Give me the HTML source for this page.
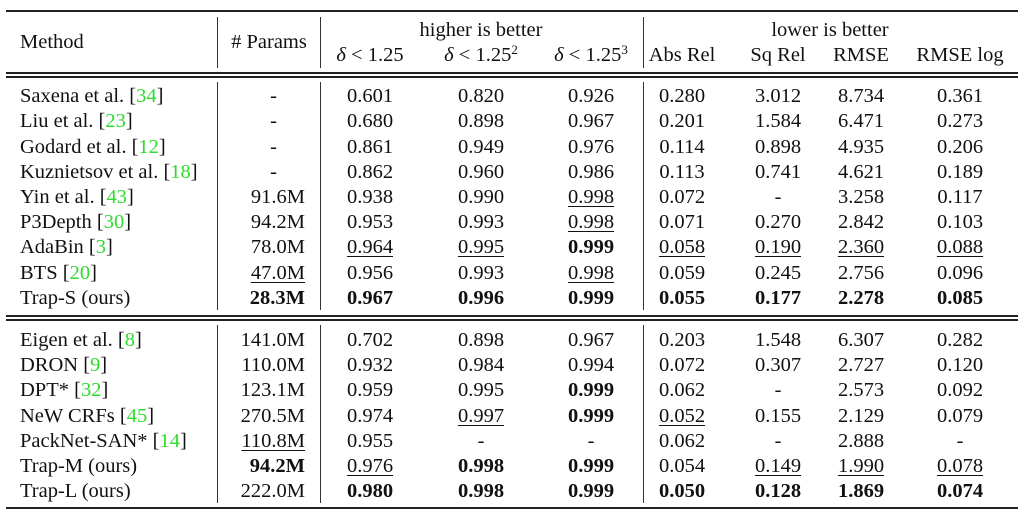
<!DOCTYPE html>
<html><head><meta charset="utf-8"><style>
body{margin:0;width:1024px;height:516px;background:#fff;position:relative;overflow:hidden;font-family:"Liberation Serif","DejaVu Serif",serif;font-size:20.5px;color:#111}
.r{position:absolute;left:0;width:1024px;height:22px;line-height:22px}
.r span{position:absolute;top:0;white-space:nowrap}
.c0{left:20px}
.c1{left:205px;width:100px;text-align:right}
.c2{left:310px;width:120px;text-align:center}
.c3{left:421px;width:120px;text-align:center}
.c4{left:531px;width:120px;text-align:center}
.c5{left:622px;width:120px;text-align:center}
.c6{left:718px;width:120px;text-align:center}
.c7{left:801px;width:120px;text-align:center}
.c8{left:900px;width:120px;text-align:center}
.g{color:#2ddc2d}
b{font-weight:bold}
u{text-decoration:underline;text-underline-offset:3px;text-decoration-thickness:1px}
.h{position:absolute;left:6px;width:1012px;background:#222}
.v{position:absolute;width:1.3px;background:#333}
sup{font-size:13px;line-height:0;vertical-align:7px}
i{font-style:italic}
</style></head><body>
<div class="h" style="top:10px;height:2px"></div>
<div class="h" style="top:72px;height:1.5px"></div>
<div class="h" style="top:76px;height:1.5px"></div>
<div class="h" style="top:315px;height:1.5px"></div>
<div class="h" style="top:319px;height:1.5px"></div>
<div class="h" style="top:507px;height:2px"></div>
<div class="v" style="left:217px;top:17px;height:51px"></div>
<div class="v" style="left:320px;top:17px;height:51px"></div>
<div class="v" style="left:643px;top:17px;height:51px"></div>
<div class="v" style="left:217px;top:82px;height:228px"></div>
<div class="v" style="left:320px;top:82px;height:228px"></div>
<div class="v" style="left:643px;top:82px;height:228px"></div>
<div class="v" style="left:217px;top:325px;height:178px"></div>
<div class="v" style="left:320px;top:325px;height:178px"></div>
<div class="v" style="left:643px;top:325px;height:178px"></div>

<div class="r" style="top:31px"><span class="c0">Method</span><span style="left:218px;width:102px;text-align:center"># Params</span></div>
<div class="r" style="top:19px"><span style="left:381px;width:200px;text-align:center">higher is better</span><span style="left:730px;width:200px;text-align:center">lower is better</span></div>
<div class="r" style="top:44px"><span class="c2"><i>δ</i> &lt; 1.25</span><span class="c3"><i>δ</i> &lt; 1.25<sup>2</sup></span><span class="c4"><i>δ</i> &lt; 1.25<sup>3</sup></span><span class="c5">Abs Rel</span><span class="c6">Sq Rel</span><span class="c7">RMSE</span><span class="c8">RMSE log</span></div>

<div class="r" style="top:85px"><span class="c0">Saxena et al. [<span class="g" style="position:static">34</span>]</span><span class="c1" style="width:72px">-</span><span class="c2">0.601</span><span class="c3">0.820</span><span class="c4">0.926</span><span class="c5">0.280</span><span class="c6">3.012</span><span class="c7">8.734</span><span class="c8">0.361</span></div>
<div class="r" style="top:110px"><span class="c0">Liu et al. [<span class="g" style="position:static">23</span>]</span><span class="c1" style="width:72px">-</span><span class="c2">0.680</span><span class="c3">0.898</span><span class="c4">0.967</span><span class="c5">0.201</span><span class="c6">1.584</span><span class="c7">6.471</span><span class="c8">0.273</span></div>
<div class="r" style="top:136px"><span class="c0">Godard et al. [<span class="g" style="position:static">12</span>]</span><span class="c1" style="width:72px">-</span><span class="c2">0.861</span><span class="c3">0.949</span><span class="c4">0.976</span><span class="c5">0.114</span><span class="c6">0.898</span><span class="c7">4.935</span><span class="c8">0.206</span></div>
<div class="r" style="top:161px"><span class="c0">Kuznietsov et al. [<span class="g" style="position:static">18</span>]</span><span class="c1" style="width:72px">-</span><span class="c2">0.862</span><span class="c3">0.960</span><span class="c4">0.986</span><span class="c5">0.113</span><span class="c6">0.741</span><span class="c7">4.621</span><span class="c8">0.189</span></div>
<div class="r" style="top:186px"><span class="c0">Yin et al. [<span class="g" style="position:static">43</span>]</span><span class="c1">91.6M</span><span class="c2">0.938</span><span class="c3">0.990</span><span class="c4"><u>0.998</u></span><span class="c5">0.072</span><span class="c6">-</span><span class="c7">3.258</span><span class="c8">0.117</span></div>
<div class="r" style="top:211px"><span class="c0">P3Depth [<span class="g" style="position:static">30</span>]</span><span class="c1">94.2M</span><span class="c2">0.953</span><span class="c3">0.993</span><span class="c4"><u>0.998</u></span><span class="c5">0.071</span><span class="c6">0.270</span><span class="c7">2.842</span><span class="c8">0.103</span></div>
<div class="r" style="top:236px"><span class="c0">AdaBin [<span class="g" style="position:static">3</span>]</span><span class="c1">78.0M</span><span class="c2"><u>0.964</u></span><span class="c3"><u>0.995</u></span><span class="c4"><b>0.999</b></span><span class="c5"><u>0.058</u></span><span class="c6"><u>0.190</u></span><span class="c7"><u>2.360</u></span><span class="c8"><u>0.088</u></span></div>
<div class="r" style="top:262px"><span class="c0">BTS [<span class="g" style="position:static">20</span>]</span><span class="c1"><u>47.0M</u></span><span class="c2">0.956</span><span class="c3">0.993</span><span class="c4"><u>0.998</u></span><span class="c5">0.059</span><span class="c6">0.245</span><span class="c7">2.756</span><span class="c8">0.096</span></div>
<div class="r" style="top:287px"><span class="c0">Trap-S (ours)</span><span class="c1"><b>28.3M</b></span><span class="c2"><b>0.967</b></span><span class="c3"><b>0.996</b></span><span class="c4"><b>0.999</b></span><span class="c5"><b>0.055</b></span><span class="c6"><b>0.177</b></span><span class="c7"><b>2.278</b></span><span class="c8"><b>0.085</b></span></div>

<div class="r" style="top:329px"><span class="c0">Eigen et al. [<span class="g" style="position:static">8</span>]</span><span class="c1">141.0M</span><span class="c2">0.702</span><span class="c3">0.898</span><span class="c4">0.967</span><span class="c5">0.203</span><span class="c6">1.548</span><span class="c7">6.307</span><span class="c8">0.282</span></div>
<div class="r" style="top:354px"><span class="c0">DRON [<span class="g" style="position:static">9</span>]</span><span class="c1">110.0M</span><span class="c2">0.932</span><span class="c3">0.984</span><span class="c4">0.994</span><span class="c5">0.072</span><span class="c6">0.307</span><span class="c7">2.727</span><span class="c8">0.120</span></div>
<div class="r" style="top:379px"><span class="c0">DPT* [<span class="g" style="position:static">32</span>]</span><span class="c1">123.1M</span><span class="c2">0.959</span><span class="c3">0.995</span><span class="c4"><b>0.999</b></span><span class="c5">0.062</span><span class="c6">-</span><span class="c7">2.573</span><span class="c8">0.092</span></div>
<div class="r" style="top:405px"><span class="c0">NeW CRFs [<span class="g" style="position:static">45</span>]</span><span class="c1">270.5M</span><span class="c2">0.974</span><span class="c3"><u>0.997</u></span><span class="c4"><b>0.999</b></span><span class="c5"><u>0.052</u></span><span class="c6">0.155</span><span class="c7">2.129</span><span class="c8">0.079</span></div>
<div class="r" style="top:430px"><span class="c0">PackNet-SAN* [<span class="g" style="position:static">14</span>]</span><span class="c1"><u>110.8M</u></span><span class="c2">0.955</span><span class="c3">-</span><span class="c4">-</span><span class="c5">0.062</span><span class="c6">-</span><span class="c7">2.888</span><span class="c8">-</span></div>
<div class="r" style="top:455px"><span class="c0">Trap-M (ours)</span><span class="c1"><b>94.2M</b></span><span class="c2"><u>0.976</u></span><span class="c3"><b>0.998</b></span><span class="c4"><b>0.999</b></span><span class="c5">0.054</span><span class="c6"><u>0.149</u></span><span class="c7"><u>1.990</u></span><span class="c8"><u>0.078</u></span></div>
<div class="r" style="top:480px"><span class="c0">Trap-L (ours)</span><span class="c1">222.0M</span><span class="c2"><b>0.980</b></span><span class="c3"><b>0.998</b></span><span class="c4"><b>0.999</b></span><span class="c5"><b>0.050</b></span><span class="c6"><b>0.128</b></span><span class="c7"><b>1.869</b></span><span class="c8"><b>0.074</b></span></div>
</body></html>
